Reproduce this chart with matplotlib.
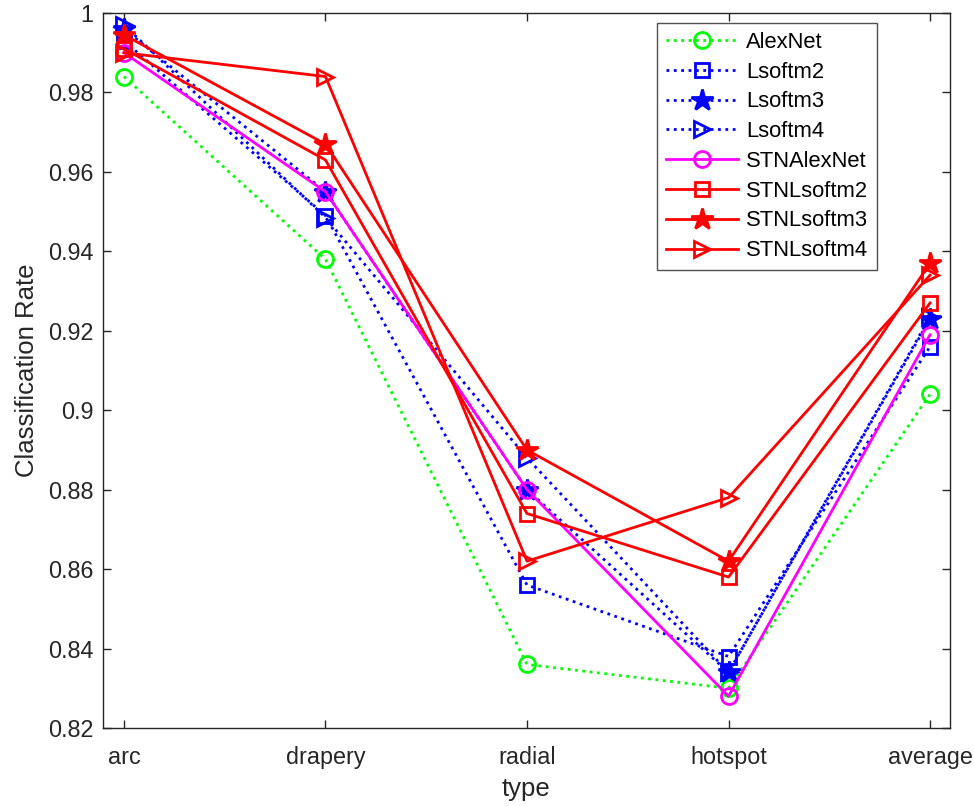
import matplotlib
matplotlib.use("Agg")
import matplotlib.pyplot as plt

plt.rcParams['font.family'] = ['Liberation Sans', 'DejaVu Sans']

categories = ['arc', 'drapery', 'radial', 'hotspot', 'average']
alexnet = [0.984, 0.938, 0.836, 0.830, 0.904]
lsoftm2 = [0.993, 0.949, 0.856, 0.838, 0.916]
lsoftm3 = [0.996, 0.955, 0.880, 0.834, 0.923]
lsoftm4 = [0.997, 0.9485, 0.888, 0.834, 0.9235]
stnalexnet = [0.990, 0.955, 0.880, 0.828, 0.919]
stnlsoftm2 = [0.991, 0.963, 0.874, 0.858, 0.927]
stnlsoftm3 = [0.9945, 0.967, 0.890, 0.862, 0.937]
stnlsoftm4 = [0.990, 0.984, 0.862, 0.878, 0.934]

series = [
    ('AlexNet', alexnet, (0, 1, 0), ':', 'o', False),
    ('Lsoftm2', lsoftm2, (0, 0, 1), ':', 's', False),
    ('Lsoftm3', lsoftm3, (0, 0, 1), ':', '*', True),
    ('Lsoftm4', lsoftm4, (0, 0, 1), ':', '>', False),
    ('STNAlexNet', stnalexnet, (1, 0, 1), '-', 'o', False),
    ('STNLsoftm2', stnlsoftm2, (1, 0, 0), '-', 's', False),
    ('STNLsoftm3', stnlsoftm3, (1, 0, 0), '-', '*', True),
    ('STNLsoftm4', stnlsoftm4, (1, 0, 0), '-', '>', False),
]
msizes = {'o': 11.5, 's': 10, '*': 16, '>': 12}

W, H = 974, 806
fig = plt.figure(figsize=(W/100, H/100), dpi=100)
L, R, T, B = 103, 950, 13, 728
ax = fig.add_axes([L/W, (H-B)/H, (R-L)/W, (B-T)/H])
x = list(range(len(categories)))
for name, vals, col, ls, mk, filled in series:
    ax.plot(x, vals, linestyle=ls, color=col, linewidth=2, marker=mk,
            markersize=msizes[mk], markeredgewidth=2,
            markerfacecolor=col if filled else 'none', markeredgecolor=col,
            label=name, clip_on=False)

ax.set_xlim(-0.104, 4.099)
ax.set_ylim(0.82, 1.0)
ax.set_xticks(x)
ax.set_xticklabels(categories)
yt = [0.82, 0.84, 0.86, 0.88, 0.90, 0.92, 0.94, 0.96, 0.98, 1.0]
ax.set_yticks(yt)
ax.set_yticklabels(['0.82', '0.84', '0.86', '0.88', '0.9', '0.92', '0.94', '0.96', '0.98', '1'])
ax.tick_params(direction='in', length=5.5, width=1, labelsize=16.8, top=True, right=True,
               color='#262626', labelcolor='#262626')
ax.tick_params(axis='x', pad=13)
ax.tick_params(axis='y', pad=7)
for s in ax.spines.values():
    s.set_linewidth(1)
    s.set_color('#262626')
ax.set_xlabel('type', fontsize=18.5, color='#262626', labelpad=6)
ax.set_ylabel('Classification Rate', fontsize=18.5, color='#262626', labelpad=6)

leg = ax.legend(loc='upper left', bbox_to_anchor=(657/W, (H-23)/H),
                bbox_transform=fig.transFigure, fontsize=15.8, frameon=True,
                fancybox=False, edgecolor='#262626', handlelength=3.3,
                labelspacing=0.4, borderpad=0.4, handletextpad=0.35,
                borderaxespad=0)
leg.get_frame().set_linewidth(1)

fig.savefig('out.png', dpi=100)
